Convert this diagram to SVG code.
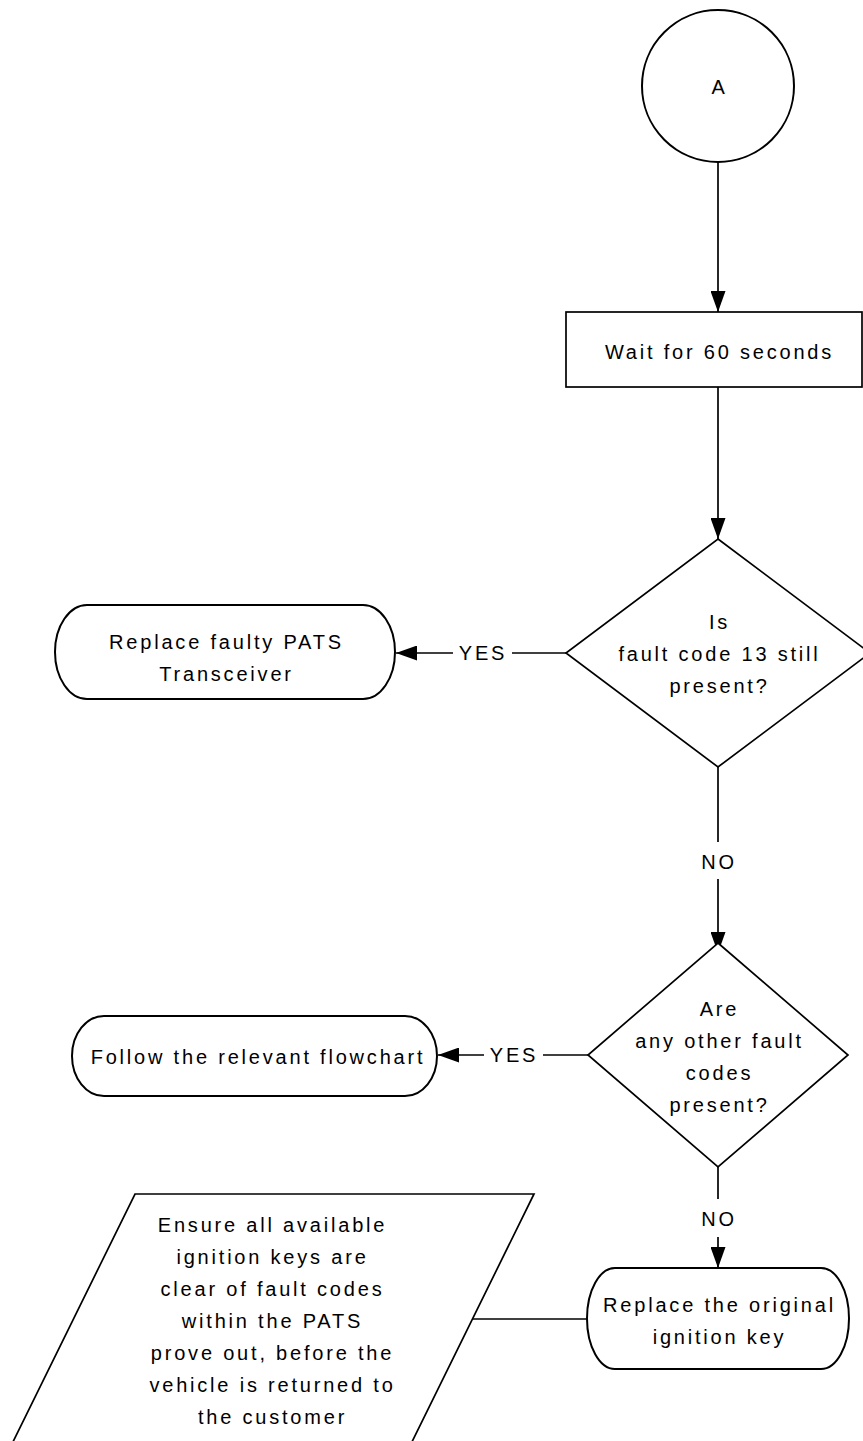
<svg xmlns="http://www.w3.org/2000/svg" width="863" height="1441" viewBox="0 0 863 1441">
<style>
.shape{fill:#fff;stroke:#000;stroke-width:2}
.thin{fill:#fff;stroke:#000;stroke-width:1.7}
.line{fill:none;stroke:#000;stroke-width:1.7}
text{font-family:"Liberation Sans",Arial,sans-serif;font-size:20px;letter-spacing:2.8px;fill:#000;text-anchor:middle}
</style>
<defs>
<marker id="arr" markerUnits="userSpaceOnUse" markerWidth="21" markerHeight="15" refX="21" refY="7.5" orient="auto">
<path d="M0,0 L21,7.5 L0,15 Z" fill="#000"/>
</marker>
</defs>
<rect width="863" height="1441" fill="#fff"/>
<g id="connectors">
<line class="line" x1="718" y1="162" x2="718" y2="312" marker-end="url(#arr)"/>
<line class="line" x1="718" y1="387" x2="718" y2="539" marker-end="url(#arr)"/>
<line class="line" x1="566" y1="653" x2="512" y2="653"/>
<line class="line" x1="453" y1="653" x2="396" y2="653" marker-end="url(#arr)"/>
<text x="483" y="660">YES</text>
<line class="line" x1="718" y1="767" x2="718" y2="842"/>
<line class="line" x1="718" y1="879" x2="718" y2="953" marker-end="url(#arr)"/>
<text x="719" y="869">NO</text>
<line class="line" x1="588" y1="1055" x2="543" y2="1055"/>
<line class="line" x1="484" y1="1055" x2="438" y2="1055" marker-end="url(#arr)"/>
<text x="514" y="1062">YES</text>
<line class="line" x1="718" y1="1167" x2="718" y2="1199"/>
<line class="line" x1="718" y1="1237" x2="718" y2="1268" marker-end="url(#arr)"/>
<text x="719" y="1226">NO</text>
<line class="line" x1="472" y1="1319" x2="587" y2="1319"/>
</g>
<g id="startA">
<circle class="shape" cx="718" cy="86" r="76"/>
<text x="719.5" y="94">A</text>
</g>
<g id="wait">
<rect class="thin" x="566" y="312" width="296" height="75"/>
<text x="719.5" y="359">Wait for 60 seconds</text>
</g>
<g id="decision1">
<polygon class="thin" points="718,539 870,653 718,767 566,653"/>
<text x="719.5" y="629">Is</text>
<text x="719.5" y="661">fault code 13 still</text>
<text x="719.5" y="693">present?</text>
</g>
<g id="replacePATS">
<path class="shape" d="M87,605 H363 A32,47 0 0 1 363,699 H87 A32,47 0 0 1 87,605 Z"/>
<text x="226.5" y="649">Replace faulty PATS</text>
<text x="226.5" y="681">Transceiver</text>
</g>
<g id="decision2">
<polygon class="thin" points="718,943 848,1055 718,1167 588,1055"/>
<text x="719.5" y="1016">Are</text>
<text x="719.5" y="1048">any other fault</text>
<text x="719.5" y="1080">codes</text>
<text x="719.5" y="1112">present?</text>
</g>
<g id="followFlowchart">
<path class="shape" d="M104,1016 H405 A32,40 0 0 1 405,1096 H104 A32,40 0 0 1 104,1016 Z"/>
<text x="258" y="1064">Follow the relevant flowchart</text>
</g>
<g id="replaceKey">
<path class="shape" d="M615,1268 H821 A28,50.5 0 0 1 821,1369 H615 A28,50.5 0 0 1 615,1268 Z"/>
<text x="719.5" y="1312">Replace the original</text>
<text x="719.5" y="1344">ignition key</text>
</g>
<g id="ensureKeys">
<polygon class="thin" points="135,1194 534,1194 407,1452 8,1452"/>
<text x="272.5" y="1232">Ensure all available</text>
<text x="272.5" y="1264">ignition keys are</text>
<text x="272.5" y="1296">clear of fault codes</text>
<text x="272.5" y="1328">within the PATS</text>
<text x="272.5" y="1360">prove out, before the</text>
<text x="272.5" y="1392">vehicle is returned to</text>
<text x="272.5" y="1424">the customer</text>
</g>
</svg>
